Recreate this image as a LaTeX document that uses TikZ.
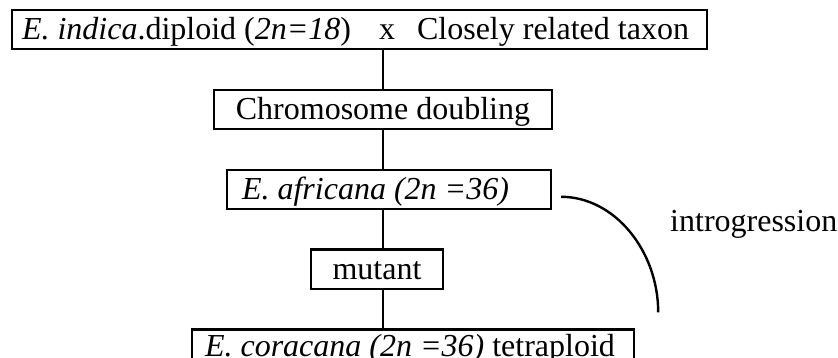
\documentclass[tikz,border=0pt]{standalone}
\usepackage{fontspec}
\setmainfont{Liberation Serif}
\usepackage{tikz}
\usetikzlibrary{positioning}

\begin{document}
\begin{tikzpicture}[
    box/.style={rectangle, draw, line width=2.4pt, inner ysep=0pt, minimum height=39pt,
                text height=26pt, text depth=6pt, font=\fontsize{32}{36}\selectfont},
    link/.style={line width=2.4pt},
    node distance=38.5pt
]
\useasboundingbox (0,0) rectangle (838pt,-358pt);

% Nodes
\node[box, inner xsep=10pt] (cross) at (359.5pt,-29.5pt)
    {\makebox[675pt][l]{\textit{E. indica}.diploid (\textit{2n=18})\hspace{28pt}x\hspace{22pt}Closely related taxon}};
\node[box, minimum width=338pt, below=of cross, xshift=23.5pt] (doubling) {Chromosome doubling};
\node[box, inner xsep=15pt, below=of doubling, xshift=6pt] (africana)
    {\makebox[294pt][l]{\textit{E. africana (2n =36)}}};
\node[box, minimum width=132pt, below=of africana, xshift=-12pt] (mutant) {mutant};
\node[box, inner xsep=13pt, text height=21pt, below=of mutant, xshift=36pt] (coracana)
    {\makebox[416pt][l]{\textit{E. coracana (2n =36)} tetraploid}};
\node[anchor=west, inner sep=0pt, font=\fontsize{32}{36}\selectfont] (introlabel) at (670pt,-224pt)
    {introgression};

% Vertical line
\draw[link] (cross.south -| doubling.north) -- (doubling.north);
\draw[link] (doubling.south) -- (doubling.south |- africana.north);
\draw[link] (africana.south -| doubling.south) -- (mutant.north -| doubling.south);
\draw[link] (mutant.south -| doubling.south) -- (coracana.north -| doubling.south);

% Introgression arc
\coordinate (introstart) at ([xshift=9pt,yshift=-7.5pt]africana.east);
\coordinate (introend) at ([xshift=23pt,yshift=16pt]coracana.north east);
\draw[link] (introstart) .. controls +(53pt,0pt) and +(0pt,62pt) .. (introend);

\end{tikzpicture}
\end{document}
